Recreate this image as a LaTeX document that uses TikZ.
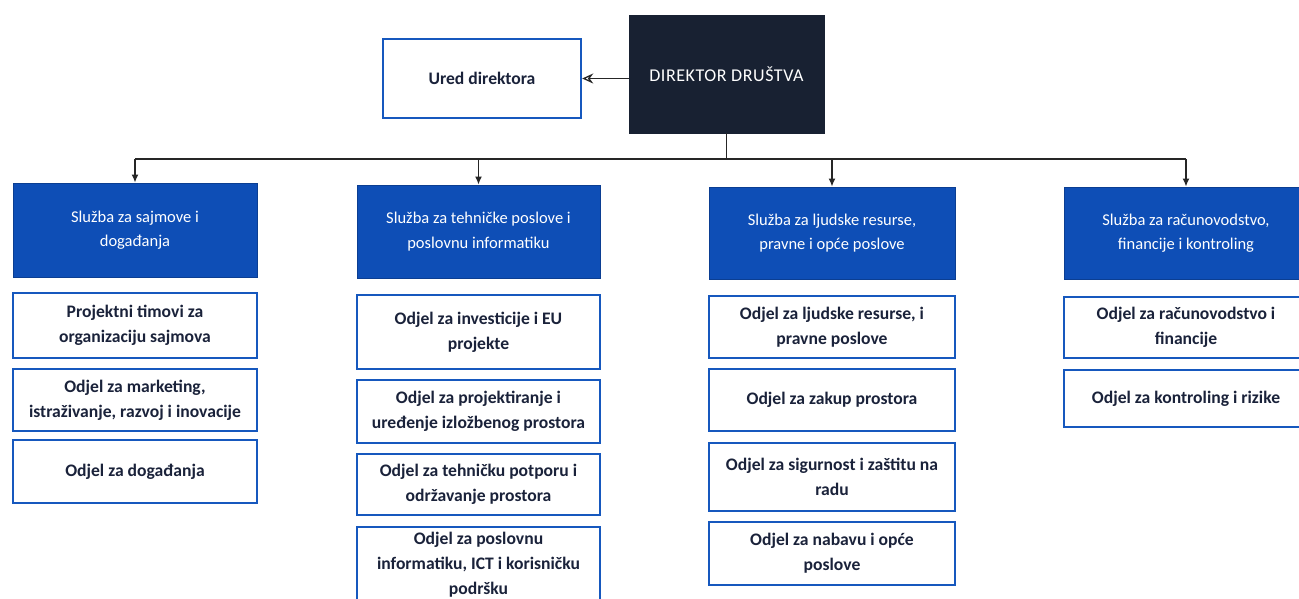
\documentclass[tikz,border=0pt]{standalone}
\usepackage{fontspec}
\setmainfont{Carlito}
\usetikzlibrary{arrows.meta}
\definecolor{headblue}{RGB}{14,78,182}
\definecolor{dirnavy}{RGB}{24,33,50}
\definecolor{txtnavy}{RGB}{26,34,58}
\definecolor{subblue}{RGB}{22,88,190}
\tikzset{
  head/.style={rectangle, fill=headblue, draw=headblue!80!black, line width=1pt, text=white, align=center, font=\fontsize{16.5}{24.5}\selectfont, inner sep=0pt},
  subbox/.style={rectangle, fill=white, draw=subblue, line width=2.4pt, text=txtnavy, align=center, font=\fontsize{17.6}{25}\selectfont\bfseries, inner sep=0pt},
  dirbox/.style={rectangle, fill=dirnavy, draw=dirnavy, text=white, align=center, font=\fontsize{18}{24}\selectfont\addfontfeature{LetterSpace=3}, inner sep=0pt},
  conn/.style={line width=1.3pt, draw=black!85},
  arr/.style={conn, -{Latex[length=8pt,width=7pt]}},
  arrL/.style={conn, -{Stealth[length=11pt,width=10pt,open]}}
}
\begin{document}
\begin{tikzpicture}[x=1pt,y=-1pt]
\useasboundingbox (0,0) rectangle (1299,598);
\clip (0,0) rectangle (1299,598);
\fill[white] (0,0) rectangle (1299,598);
% top
\node[dirbox, minimum width=195pt, minimum height=118pt] (dir) at (726.5,74) {DIREKTOR DRU\v{S}TVA};
\node[subbox, minimum width=198pt, minimum height=79pt] (ured) at (482,78.5) {Ured direktora};
% headers
\node[head, minimum width=244pt, minimum height=94pt] (h1) at (135,230) {Slu\v{z}ba za sajmove i\\ doga\dj anja};
\node[head, minimum width=243pt, minimum height=93pt] (h2) at (478.5,231.5) {Slu\v{z}ba za tehni\v{c}ke poslove i\\ poslovnu informatiku};
\node[head, minimum width=246pt, minimum height=92pt] (h3) at (832,233) {Slu\v{z}ba za ljudske resurse,\\ pravne i op\'{c}e poslove};
\node[head, minimum width=244pt, minimum height=92pt] (h4) at (1186,233) {Slu\v{z}ba za ra\v{c}unovodstvo,\\ financije i kontroling};
% column 1
\node[subbox, minimum width=244pt, minimum height=65pt] (a1) at (135,325.5) {Projektni timovi za\\ organizaciju sajmova};
\node[subbox, minimum width=244pt, minimum height=62pt] (a2) at (135,400) {Odjel za marketing,\\ istra\v{z}ivanje, razvoj i inovacije};
\node[subbox, minimum width=244pt, minimum height=63pt] (a3) at (135,471.5) {Odjel za doga\dj anja};
% column 2
\node[subbox, minimum width=243pt, minimum height=74pt] (b1) at (478.5,332) {Odjel za investicije i EU\\ projekte};
\node[subbox, minimum width=243pt, minimum height=63pt] (b2) at (478.5,411.5) {Odjel za projektiranje i\\ ure\dj enje izlo\v{z}benog prostora};
\node[subbox, minimum width=243pt, minimum height=61pt] (b3) at (478.5,484.5) {Odjel za tehni\v{c}ku potporu i\\ odr\v{z}avanje prostora};
\node[subbox, minimum width=243pt, minimum height=76pt] (b4) at (478.5,565) {Odjel za poslovnu\\ informatiku, ICT i korisni\v{c}ku\\ podr\v{s}ku};
% column 3
\node[subbox, minimum width=246pt, minimum height=62pt] (c1) at (832,327) {Odjel za ljudske resurse, i\\ pravne poslove};
\node[subbox, minimum width=246pt, minimum height=62pt] (c2) at (832,400) {Odjel za zakup prostora};
\node[subbox, minimum width=246pt, minimum height=68pt] (c3) at (832,477) {Odjel za sigurnost i za\v{s}titu na\\ radu};
\node[subbox, minimum width=246pt, minimum height=63pt] (c4) at (832,553.5) {Odjel za nabavu i op\'{c}e\\ poslove};
% column 4
\node[subbox, minimum width=244pt, minimum height=61pt] (d1) at (1186,327.5) {Odjel za ra\v{c}unovodstvo i\\ financije};
\node[subbox, minimum width=244pt, minimum height=57pt] (d2) at (1186,398.5) {Odjel za kontroling i rizike};
% connectors
\coordinate (bus) at (726,159);
\draw[arrL] (dir.west |- ured.east) -- (ured.east);
\draw[conn] (dir.south) -- (dir.south |- bus);
\draw[conn] (h1.north |- bus) -- (h4.north |- bus);
\draw[arr] (h1.north |- bus) -- (h1.north);
\draw[arr] (h2.north |- bus) -- (h2.north);
\draw[arr] (h3.north |- bus) -- (h3.north);
\draw[arr] (h4.north |- bus) -- (h4.north);
\end{tikzpicture}
\end{document}
